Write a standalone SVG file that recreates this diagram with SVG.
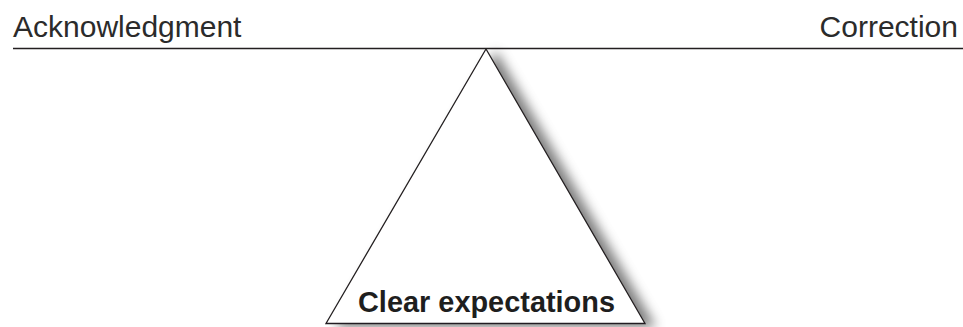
<svg xmlns="http://www.w3.org/2000/svg" width="963" height="327" viewBox="0 0 963 327">
  <style>
    .label { font-family: "Liberation Sans", Arial, sans-serif; font-size: 30px; fill: #2b2b2b; }
    .bold { font-family: "Liberation Sans", Arial, sans-serif; font-size: 29px; font-weight: bold; fill: #1e1e1e; }
    .edge { stroke: #231f20; stroke-width: 1.4; fill: none; }
  </style>
  <defs>
    <filter id="shadow" x="-20%" y="-20%" width="150%" height="150%">
      <feGaussianBlur in="SourceAlpha" stdDeviation="6"/>
      <feOffset dx="10" dy="3" result="blur"/>
      <feFlood flood-color="#000" flood-opacity="0.5"/>
      <feComposite in2="blur" operator="in" result="sh"/>
      <feMerge>
        <feMergeNode in="sh"/>
        <feMergeNode in="SourceGraphic"/>
      </feMerge>
    </filter>
  </defs>
  <rect width="963" height="327" fill="#fff"/>
  <g id="fulcrum">
    <polygon points="486,49 326,323.5 645,323.5" fill="#fff" stroke="#231f20" stroke-width="1.3" filter="url(#shadow)"/>
    <text class="bold" x="358" y="312" textLength="257" lengthAdjust="spacingAndGlyphs">Clear expectations</text>
  </g>
  <g id="connectors">
    <line class="edge" x1="13" y1="48.5" x2="963" y2="48.5"/>
  </g>
  <g id="acknowledgment">
    <text class="label" x="13" y="37">Acknowledgment</text>
  </g>
  <g id="correction">
    <text class="label" x="958" y="37" text-anchor="end">Correction</text>
  </g>
</svg>
